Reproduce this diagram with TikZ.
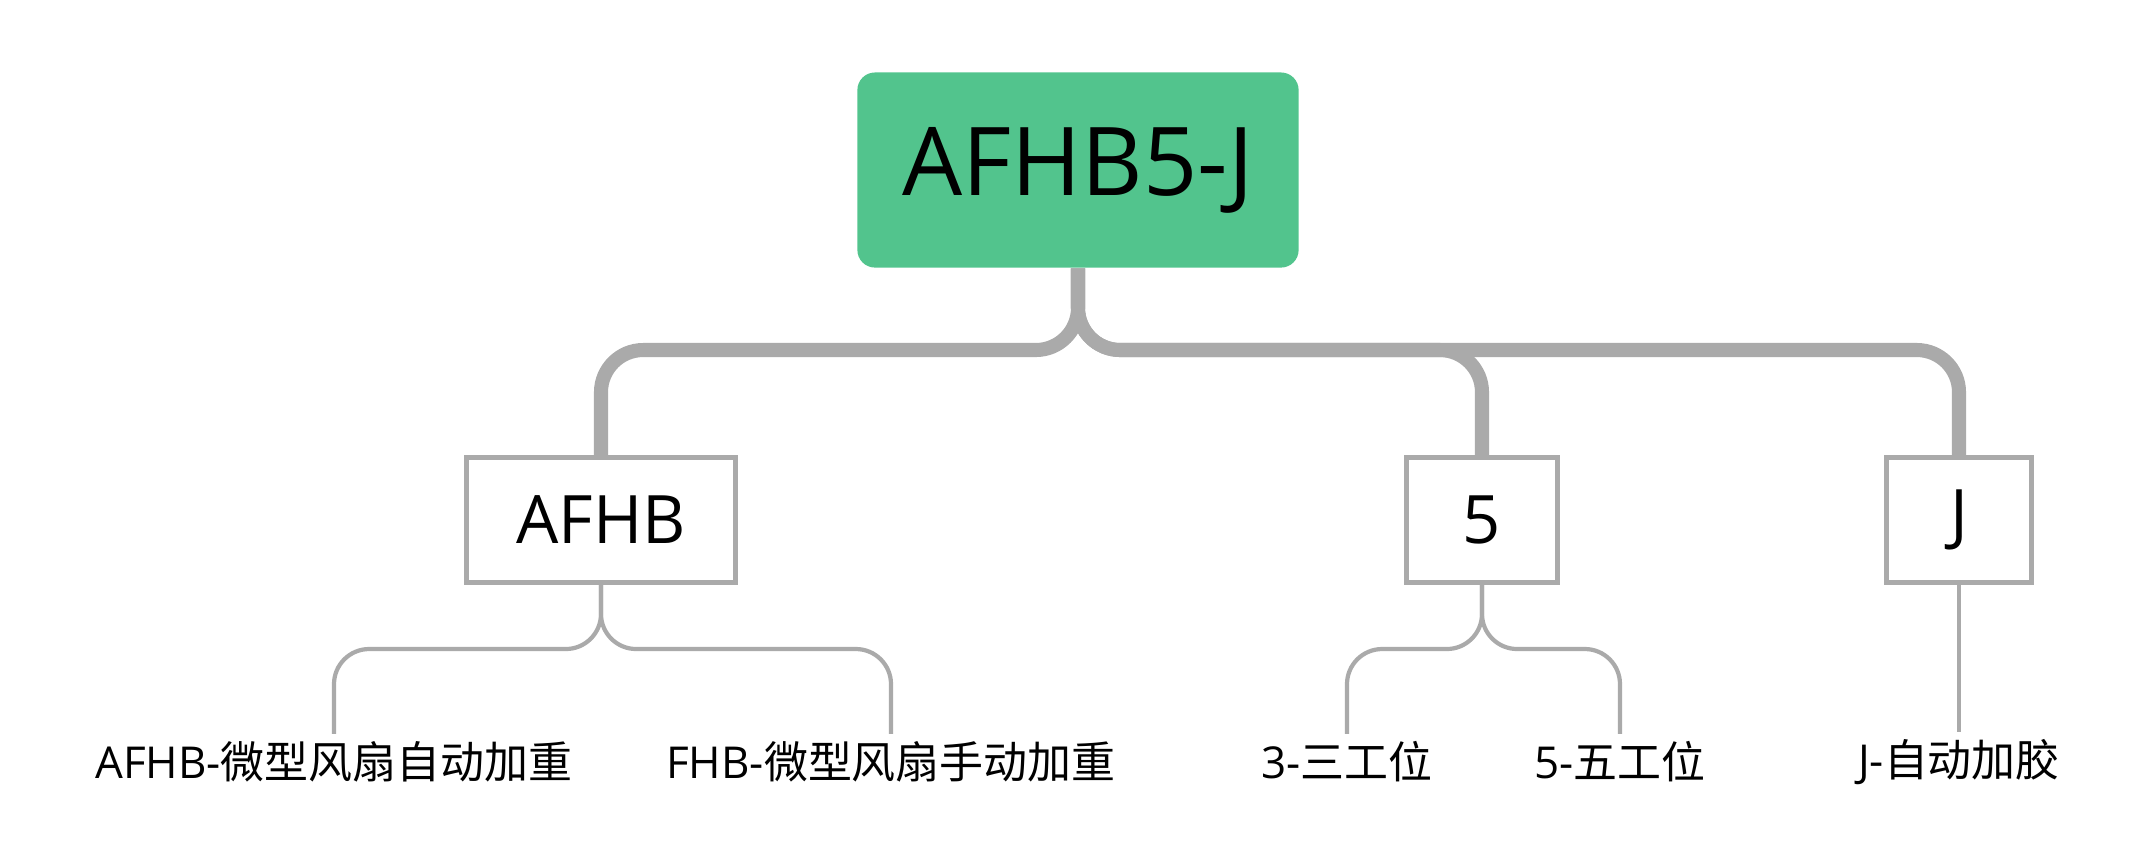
\documentclass[tikz,border=0pt]{standalone}
\usepackage{fontspec}
\setmainfont{Open Sans}
\newfontfamily\cjk{Noto Sans CJK SC}
\definecolor{rootg}{HTML}{52C48D}
\definecolor{lg}{HTML}{AAAAAA}
\begin{document}
\begin{tikzpicture}[x=0.01cm,y=-0.01cm,
  thick line/.style={draw=lg,line width=4pt,rounded corners=12pt},
  thin line/.style={draw=lg,line width=1.2pt,rounded corners=10pt},
  box/.style={draw=lg,line width=1.2pt,fill=white,minimum height=1.25cm,font=\fontsize{19}{22}\selectfont},
  leaf/.style={inner sep=2pt,font=\fontsize{12.5}{15}\selectfont}]
\useasboundingbox (0,0) rectangle (2156,859);
\node[fill=rootg,rounded corners=5pt,minimum width=4.41cm,minimum height=1.95cm,font=\fontsize{27}{32}\selectfont] (root) at (1078,170) {AFHB5-J};
\node[box,minimum width=2.69cm] (a) at (601,520) {AFHB};
\node[box,minimum width=1.51cm] (f) at (1482,520) {5};
\node[box,minimum width=1.45cm] (j) at (1959,520) {J};
\node[leaf] (a1) at (334,762) {AFHB-{\cjk 微型风扇自动加重}};
\node[leaf] (a2) at (891,762) {FHB-{\cjk 微型风扇手动加重}};
\node[leaf] (f1) at (1347,762) {3-{\cjk 三工位}};
\node[leaf] (f2) at (1620,762) {5-{\cjk 五工位}};
\node[leaf] (j1) at (1959,762) {J-{\cjk 自动加胶}};
\coordinate (m) at (1078,350);
\draw[thick line] (root.south) -- (m) -| (a.north);
\draw[thick line] (root.south) -- (m) -| (f.north);
\draw[thick line] (root.south) -- (m) -| (j.north);
\coordinate (ma) at (601,649);
\coordinate (mf) at (1482,649);
\draw[thin line] (a.south) -- (ma) -| (a1.north);
\draw[thin line] (a.south) -- (ma) -| (a2.north);
\draw[thin line] (f.south) -- (mf) -| (f1.north);
\draw[thin line] (f.south) -- (mf) -| (f2.north);
\draw[thin line] (j.south) -- (j1.north);
\end{tikzpicture}
\end{document}
